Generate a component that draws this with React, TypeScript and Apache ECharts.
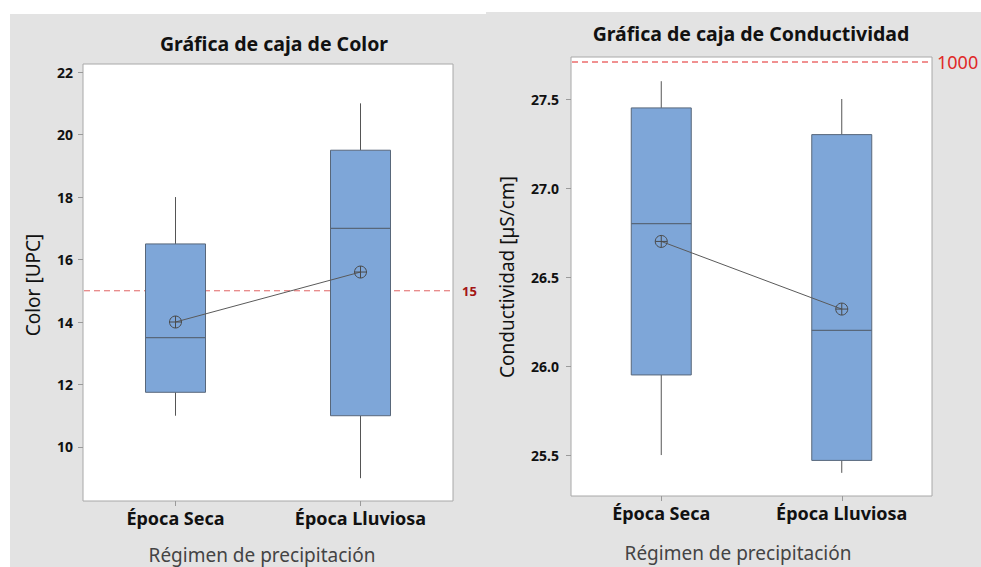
import React, { useEffect, useRef } from "react";
import * as echarts from "echarts";

// Categories (precipitation regime)
const categories = ["Época Seca", "Época Lluviosa"];

// Color [UPC]: [min, Q1, median, Q3, max] per category
const colorBoxes = [
  [11.0, 11.75, 13.5, 16.5, 18.0],
  [9.0, 11.0, 17.0, 19.5, 21.0],
];
const colorMeans = [14.0, 15.6];
const colorLimit = 15;
const colorTicks = [10, 12, 14, 16, 18, 20, 22];

// Conductividad [µS/cm]: [min, Q1, median, Q3, max] per category
const condBoxes = [
  [25.5, 25.95, 26.8, 27.45, 27.6],
  [25.4, 25.47, 26.2, 27.3, 27.5],
];
const condMeans = [26.7, 26.32];
const condLimit = 1000; // off-scale limit, marked at the top edge
const condTicks = [25.5, 26.0, 26.5, 27.0, 27.5];

const FONT = "'Noto Sans', 'Open Sans', sans-serif";
const BOX_FILL = "#7ea6d8";
const BOX_STROKE = "#58677a";
const WHISKER = "#555555";
const BOX_HALF = 30;

function boxRender(params: any, api: any) {
  const i = api.value(0);
  const pMin = api.coord([i, api.value(1)]);
  const pQ1 = api.coord([i, api.value(2)]);
  const pMed = api.coord([i, api.value(3)]);
  const pQ3 = api.coord([i, api.value(4)]);
  const pMax = api.coord([i, api.value(5)]);
  const x = pMin[0];
  const ls = { stroke: WHISKER, lineWidth: 1 };
  return {
    type: "group",
    children: [
      { type: "line", shape: { x1: x, y1: pMax[1], x2: x, y2: pQ3[1] }, style: ls },
      { type: "line", shape: { x1: x, y1: pQ1[1], x2: x, y2: pMin[1] }, style: ls },
      {
        type: "rect",
        shape: { x: x - BOX_HALF, y: pQ3[1], width: BOX_HALF * 2, height: pQ1[1] - pQ3[1] },
        style: { fill: BOX_FILL, stroke: BOX_STROKE, lineWidth: 1 },
      },
      {
        type: "line",
        shape: { x1: x - BOX_HALF, y1: pMed[1], x2: x + BOX_HALF, y2: pMed[1] },
        style: { stroke: BOX_STROKE, lineWidth: 1.2 },
      },
    ],
  };
}

function meanRender(params: any, api: any) {
  const p = api.coord([api.value(0), api.value(1)]);
  const r = 6;
  const st = { stroke: "#4a4a4a", lineWidth: 1 };
  return {
    type: "group",
    children: [
      { type: "circle", shape: { cx: p[0], cy: p[1], r }, style: { fill: "none", ...st } },
      { type: "line", shape: { x1: p[0] - r, y1: p[1], x2: p[0] + r, y2: p[1] }, style: st },
      { type: "line", shape: { x1: p[0], y1: p[1] - r, x2: p[0], y2: p[1] + r }, style: st },
    ],
  };
}

// Horizontal dashed reference line across the plot, labelled just outside its right edge
function limitRender(params: any, api: any) {
  const cs = params.coordSys;
  const y = api.coord([0, api.value(1)])[1];
  return {
    type: "group",
    children: [
      {
        type: "line",
        shape: { x1: cs.x + 1, y1: y, x2: cs.x + cs.width - 1, y2: y },
        style: { stroke: "#e06464", lineWidth: 1, lineDash: [6, 4] },
      },
      {
        type: "text",
        x: cs.x + cs.width + 9,
        y,
        style: {
          text: String(api.value(1)),
          fill: "#a31515",
          fontWeight: "bold",
          fontSize: 13,
          fontFamily: FONT,
          textAlign: "left",
          textVerticalAlign: "middle",
        },
      },
    ],
  };
}

function yAxisFor(gridIndex: number, min: number, max: number, ticks: number[], fmt: (v: number) => string, margin: number) {
  return {
    type: "value",
    gridIndex,
    min,
    max,
    axisLine: { show: false },
    splitLine: { show: false },
    axisTick: { show: true, length: 5, customValues: ticks, lineStyle: { color: "#9a9a9a" } },
    axisLabel: {
      customValues: ticks,
      formatter: (v: number) => fmt(v),
      margin,
      color: "#111",
      fontWeight: "bold",
      fontSize: 14,
      fontFamily: FONT,
    },
  };
}

function xAxisFor(gridIndex: number) {
  return {
    type: "category",
    gridIndex,
    data: categories,
    boundaryGap: true,
    axisLine: { show: false },
    splitLine: { show: false },
    axisTick: { show: true, alignWithLabel: true, length: 5, lineStyle: { color: "#9a9a9a" } },
    axisLabel: { margin: 8, color: "#111", fontWeight: "bold", fontSize: 18, fontFamily: FONT },
  };
}

export default function App() {
  const ref = useRef<HTMLDivElement>(null);

  useEffect(() => {
    if (!ref.current) return;
    const chart = echarts.init(ref.current, undefined, { renderer: "svg" });

    const txt = (text: string, x: number, y: number, extra: any = {}) => ({
      type: "text",
      x,
      y,
      z: 10,
      style: {
        text,
        x: 0,
        y: 0,
        fontFamily: FONT,
        fontSize: 19,
        fill: "#111",
        textAlign: "center",
        textVerticalAlign: "middle",
        ...(extra.style || {}),
      },
      ...(extra.rotation !== undefined ? { rotation: extra.rotation } : {}),
    });

    chart.setOption({
      animation: false,
      backgroundColor: "#ffffff",
      grid: [
        { left: 83, top: 64, width: 370, height: 437, show: true, backgroundColor: "#ffffff", borderColor: "#a8a8a8", borderWidth: 1 },
        { left: 571, top: 57, width: 361, height: 439, show: true, backgroundColor: "#ffffff", borderColor: "#a8a8a8", borderWidth: 1 },
      ],
      xAxis: [xAxisFor(0), xAxisFor(1)],
      yAxis: [
        yAxisFor(0, 8.27, 22.26, colorTicks, (v) => String(v), 10),
        yAxisFor(1, 25.27, 27.736, condTicks, (v) => v.toFixed(1), 12),
      ],
      series: [
        {
          type: "custom",
          xAxisIndex: 0,
          yAxisIndex: 0,
          renderItem: limitRender,
          encode: { x: 0, y: 1 },
          data: [[0, colorLimit]],
          clip: false,
          z: 1,
        },
        {
          type: "custom",
          xAxisIndex: 0,
          yAxisIndex: 0,
          renderItem: boxRender,
          encode: { x: 0, y: [1, 2, 3, 4, 5] },
          data: colorBoxes.map((b, i) => [i, ...b]),
          z: 5,
        },
        {
          type: "line",
          xAxisIndex: 0,
          yAxisIndex: 0,
          data: colorMeans,
          symbol: "none",
          lineStyle: { color: "#5a5a5a", width: 1 },
          z: 6,
        },
        {
          type: "custom",
          xAxisIndex: 0,
          yAxisIndex: 0,
          renderItem: meanRender,
          data: colorMeans.map((m, i) => [i, m]),
          z: 7,
        },
        {
          type: "custom",
          xAxisIndex: 1,
          yAxisIndex: 1,
          renderItem: boxRender,
          encode: { x: 0, y: [1, 2, 3, 4, 5] },
          data: condBoxes.map((b, i) => [i, ...b]),
          z: 5,
        },
        {
          type: "line",
          xAxisIndex: 1,
          yAxisIndex: 1,
          data: condMeans,
          symbol: "none",
          lineStyle: { color: "#5a5a5a", width: 1 },
          z: 6,
        },
        {
          type: "custom",
          xAxisIndex: 1,
          yAxisIndex: 1,
          renderItem: meanRender,
          data: condMeans.map((m, i) => [i, m]),
          z: 7,
        },
      ],
      graphic: [
        { type: "rect", z: -100, shape: { x: 10, y: 14, width: 476, height: 553 }, style: { fill: "#e3e3e3" } },
        { type: "rect", z: -100, shape: { x: 486, y: 12, width: 495, height: 555 }, style: { fill: "#e3e3e3" } },
        txt("Gráfica de caja de Color", 274, 43, { style: { fontWeight: "bold", fontSize: 19.5 } }),
        txt("Gráfica de caja de Conductividad", 751, 33, { style: { fontWeight: "bold", fontSize: 19.5 } }),
        txt("Color [UPC]", 33, 285, { rotation: Math.PI / 2 }),
        txt("Conductividad [µS/cm]", 507, 277, { rotation: Math.PI / 2 }),
        txt("Régimen de precipitación", 262, 555, { style: { fill: "#444" } }),
        txt("Régimen de precipitación", 738, 553, { style: { fill: "#444" } }),
        // off-scale limit line along the top of the conductivity plot
        {
          type: "line",
          z: 10,
          shape: { x1: 572, y1: 62, x2: 931, y2: 62 },
          style: { stroke: "#e22222", lineWidth: 1, lineDash: [6, 4] },
        },
        txt(String(condLimit), 937, 62, { style: { fill: "#e02828", textAlign: "left", fontSize: 18 } }),
      ],
    });

    return () => chart.dispose();
  }, []);

  return (
    <div
      ref={ref}
      style={{ position: "absolute", left: 0, top: 0, width: 981, height: 567 }}
    />
  );
}
